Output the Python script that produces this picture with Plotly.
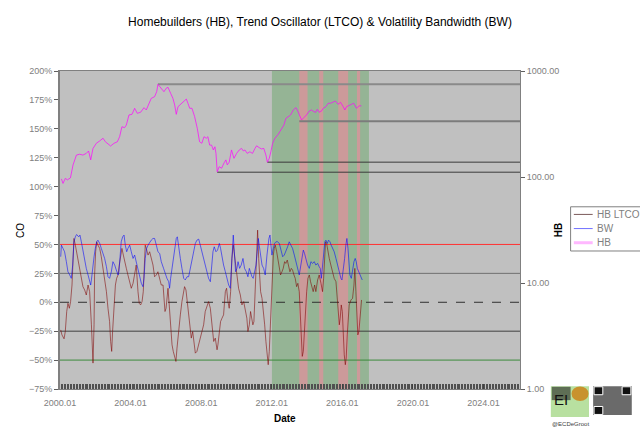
import plotly.graph_objects as go

# ---- datos ----
# HB (escala log, eje derecho)
hb_fecha = [2000.08, 2000.17, 2000.30, 2000.42, 2000.59, 2000.74, 2000.93, 2001.11, 2001.30, 2001.49,
            2001.62, 2001.74, 2001.87, 2002.06, 2002.25, 2002.44, 2002.57, 2002.72, 2002.87, 2003.06,
            2003.25, 2003.38, 2003.51, 2003.66, 2003.76, 2003.91, 2004.08, 2004.23, 2004.38, 2004.57,
            2004.76, 2004.89, 2005.02, 2005.17, 2005.36, 2005.48, 2005.55, 2005.65, 2005.78, 2005.89,
            2006.02, 2006.12, 2006.27, 2006.40, 2006.50, 2006.59, 2006.69, 2006.88, 2007.03, 2007.16,
            2007.25, 2007.35, 2007.48, 2007.63, 2007.78, 2007.91, 2008.04, 2008.16, 2008.29, 2008.38,
            2008.48, 2008.59, 2008.69, 2008.78, 2008.84, 2008.91, 2009.02, 2009.16, 2009.29, 2009.40,
            2009.48, 2009.59, 2009.72, 2009.86, 2010.01, 2010.16, 2010.29, 2010.39, 2010.48, 2010.61,
            2010.76, 2010.91, 2011.05, 2011.14, 2011.29, 2011.42, 2011.55, 2011.67, 2011.75, 2011.86,
            2011.95, 2012.05, 2012.18, 2012.27, 2012.37, 2012.46, 2012.56, 2012.69, 2012.80, 2012.94,
            2013.07, 2013.22, 2013.37, 2013.45, 2013.56, 2013.69, 2013.82, 2013.97, 2014.13, 2014.26,
            2014.39, 2014.50, 2014.58, 2014.69, 2014.82, 2014.92, 2015.07, 2015.20, 2015.33, 2015.48,
            2015.61, 2015.76, 2015.90, 2016.05, 2016.14, 2016.24, 2016.39, 2016.52, 2016.65, 2016.80,
            2016.90, 2016.99, 2017.08]
hb_valor = [96, 87, 97, 94, 98, 130, 161, 164, 161, 167,
            176, 145, 186, 208, 219, 232, 215, 203, 196, 208,
            215, 240, 298, 292, 309, 385, 390, 445, 399, 408,
            451, 429, 485, 552, 572, 638, 748, 711, 662, 638,
            687, 702, 616, 552, 478, 390, 461, 496, 514, 544,
            496, 445, 445, 371, 288, 215, 208, 240, 232, 240,
            200, 200, 180, 193, 167, 112, 125, 121, 135, 145,
            130, 138, 180, 150, 167, 180, 186, 176, 180, 167,
            173, 167, 186, 197, 189, 184, 186, 161, 138, 150,
            173, 208, 232, 240, 253, 268, 288, 309, 357, 371,
            385, 429, 451, 429, 385, 345, 363, 385, 420, 429,
            413, 408, 435, 408, 420, 445, 461, 496, 496, 514,
            521, 485, 506, 461, 429, 461, 478, 485, 496, 445,
            461, 471, 468]

# niveles horizontales de HB (fecha de inicio, nivel)
nivel_fecha = [2005.55, 2013.56, 2011.75, 2008.91]
nivel_valor = [750, 335, 138, 111]

# HB LTCO (%)
ltco_fecha = [2000.04, 2000.11, 2000.23, 2000.30, 2000.38, 2000.45, 2000.53, 2000.60, 2000.68, 2000.76,
              2000.79, 2000.87, 2000.94, 2001.02, 2001.11, 2001.21, 2001.30, 2001.40, 2001.49, 2001.59,
              2001.68, 2001.78, 2001.83, 2001.87, 2001.93, 2001.96, 2002.02, 2002.08, 2002.15, 2002.25,
              2002.34, 2002.44, 2002.53, 2002.63, 2002.72, 2002.81, 2002.87, 2002.93, 2002.98, 2003.06,
              2003.14, 2003.21, 2003.29, 2003.36, 2003.44, 2003.51, 2003.59, 2003.66, 2003.76, 2003.85,
              2003.95, 2004.04, 2004.14, 2004.23, 2004.32, 2004.42, 2004.49, 2004.57, 2004.65, 2004.72,
              2004.80, 2004.83, 2004.89, 2004.99, 2005.08, 2005.17, 2005.27, 2005.36, 2005.46, 2005.55,
              2005.65, 2005.74, 2005.84, 2005.89, 2005.95, 2006.01, 2006.06, 2006.12, 2006.19, 2006.27,
              2006.35, 2006.42, 2006.50, 2006.57, 2006.63, 2006.72, 2006.82, 2006.91, 2007.01, 2007.06,
              2007.14, 2007.21, 2007.29, 2007.37, 2007.44, 2007.52, 2007.59, 2007.67, 2007.76, 2007.86,
              2007.95, 2008.04, 2008.14, 2008.23, 2008.33, 2008.42, 2008.52, 2008.61, 2008.71, 2008.80,
              2008.90, 2008.95, 2009.03, 2009.10, 2009.18, 2009.27, 2009.37, 2009.44, 2009.52, 2009.59,
              2009.67, 2009.74, 2009.82, 2009.90, 2009.97, 2010.05, 2010.12, 2010.22, 2010.31, 2010.41,
              2010.50, 2010.59, 2010.65, 2010.73, 2010.80, 2010.88, 2010.93, 2010.99, 2011.07, 2011.14,
              2011.20, 2011.26, 2011.31, 2011.37, 2011.45, 2011.52, 2011.60, 2011.67, 2011.75, 2011.80,
              2011.86, 2011.92, 2011.97, 2012.03, 2012.09, 2012.14, 2012.20, 2012.28, 2012.35, 2012.43,
              2012.50, 2012.58, 2012.65, 2012.73, 2012.80, 2012.88, 2012.96, 2013.03, 2013.11, 2013.18,
              2013.26, 2013.33, 2013.41, 2013.48, 2013.56, 2013.62, 2013.67, 2013.73, 2013.79, 2013.84,
              2013.90, 2013.98, 2014.05, 2014.13, 2014.20, 2014.28, 2014.35, 2014.43, 2014.50, 2014.60,
              2014.69, 2014.79, 2014.88, 2014.94, 2014.99, 2015.05, 2015.11, 2015.18, 2015.26, 2015.35,
              2015.45, 2015.54, 2015.64, 2015.71, 2015.77, 2015.83, 2015.88, 2015.94, 2016.00, 2016.05,
              2016.11, 2016.17, 2016.22, 2016.28, 2016.34, 2016.39, 2016.49, 2016.58, 2016.66, 2016.71,
              2016.77, 2016.83, 2016.88, 2016.94, 2017.00, 2017.05, 2017.09]
ltco_valor = [-23.9, -28.2, -31.6, -25.3, -8.0, -0.9, -5.2, 0.6, 14.9, 37.9,
              55.2, 49.4, 43.7, 39.4, 32.2, 23.6, 13.5, 10.6, 6.3, 14.9,
              9.2, -19.5, -44.0, -52.6, -19.5, 23.6, 43.7, 52.3, 49.4, 46.6,
              39.4, 29.3, 17.8, 9.2, -5.2, -16.7, -33.9, -42.5, -25.3, -2.3,
              14.9, 20.7, 23.6, 32.2, 40.8, 46.6, 40.8, 35.1, 29.3, 23.6,
              17.8, 12.1, 16.4, 26.4, 32.2, 9.2, -0.9, -2.3, 0.6, 9.2,
              32.2, 49.4, 46.6, 40.8, 43.7, 37.9, 32.2, 22.1, 23.6, 26.4,
              20.7, 14.9, 14.9, 3.4, -8.0, -5.2, 3.4, 12.1, -2.3, -25.3,
              -36.8, -42.5, -48.3, -51.2, -39.7, -22.4, -10.9, 0.6, 9.2, 13.5,
              10.6, 0.6, -10.9, -22.4, -31.0, -25.3, -36.8, -44.0, -42.5, -36.8,
              -31.0, -25.3, -19.5, -8.0, -2.3, 0.6, -5.2, -19.5, -33.9, -31.0,
              -41.1, -36.8, -22.4, -16.7, -13.8, -10.9, 9.2, 12.1, 0.6, -5.2,
              9.2, 37.9, 49.4, 37.9, 29.3, 20.7, 12.1, 6.3, -2.3, 0.6,
              -5.2, -13.8, -25.3, -19.5, -8.0, -13.8, -19.5, -16.7, 9.2, 32.2,
              62.4, 37.9, 20.7, 9.2, 3.4, -5.2, -19.5, -33.9, -48.3, -54.0,
              -42.5, -19.5, 9.2, 32.2, 40.8, 46.6, 49.4, 43.7, 37.9, 29.3,
              23.6, 26.4, 29.3, 35.1, 33.6, 36.5, 32.2, 26.4, 29.3, 27.9,
              23.6, 20.7, 13.5, 16.4, 9.2, -8.0, -31.0, -46.8, -42.5, -28.2,
              -8.0, 9.2, 20.7, 23.6, 17.8, 12.1, 9.2, 14.9, 9.2, 19.3,
              23.6, 16.4, 9.2, 20.7, 43.7, 52.3, 50.9, 43.7, 37.9, 32.2,
              26.4, 20.7, 17.8, 6.3, -8.0, -19.5, -13.8, -2.3, -8.0, -28.2,
              -45.4, -54.0, -48.3, -28.2, -10.9, -2.3, 2.0, 3.4, 14.9, 29.3,
              9.2, -13.8, -28.2, -25.3, -10.9, 0.6, 2.0]

# BW (%)
bw_fecha = [2000.04, 2000.08, 2000.17, 2000.26, 2000.36, 2000.45, 2000.55, 2000.64, 2000.72, 2000.79,
            2000.87, 2000.94, 2001.06, 2001.13, 2001.21, 2001.30, 2001.40, 2001.49, 2001.59, 2001.68,
            2001.74, 2001.78, 2001.87, 2001.93, 2002.00, 2002.08, 2002.15, 2002.25, 2002.34, 2002.44,
            2002.53, 2002.63, 2002.72, 2002.81, 2002.91, 2003.00, 2003.10, 2003.19, 2003.29, 2003.34,
            2003.40, 2003.47, 2003.55, 2003.63, 2003.70, 2003.78, 2003.85, 2003.95, 2004.04, 2004.14,
            2004.23, 2004.32, 2004.42, 2004.51, 2004.61, 2004.70, 2004.76, 2004.83, 2004.91, 2004.99,
            2005.08, 2005.17, 2005.27, 2005.36, 2005.46, 2005.55, 2005.65, 2005.74, 2005.87, 2005.97,
            2006.06, 2006.16, 2006.21, 2006.27, 2006.35, 2006.44, 2006.53, 2006.59, 2006.65, 2006.72,
            2006.82, 2006.91, 2007.01, 2007.10, 2007.20, 2007.29, 2007.39, 2007.48, 2007.57, 2007.67,
            2007.76, 2007.86, 2007.95, 2008.04, 2008.14, 2008.23, 2008.33, 2008.42, 2008.52, 2008.61,
            2008.67, 2008.74, 2008.84, 2008.93, 2009.03, 2009.10, 2009.18, 2009.27, 2009.37, 2009.46,
            2009.56, 2009.65, 2009.71, 2009.76, 2009.82, 2009.88, 2009.95, 2010.03, 2010.09, 2010.18,
            2010.27, 2010.37, 2010.46, 2010.56, 2010.65, 2010.73, 2010.80, 2010.88, 2010.95, 2011.03,
            2011.11, 2011.18, 2011.24, 2011.29, 2011.37, 2011.45, 2011.54, 2011.63, 2011.73, 2011.78,
            2011.84, 2011.90, 2011.95, 2012.01, 2012.09, 2012.16, 2012.24, 2012.33, 2012.43, 2012.52,
            2012.62, 2012.71, 2012.80, 2012.90, 2012.99, 2013.09, 2013.18, 2013.28, 2013.37, 2013.47,
            2013.56, 2013.65, 2013.71, 2013.79, 2013.86, 2013.94, 2014.03, 2014.13, 2014.22, 2014.32,
            2014.41, 2014.50, 2014.60, 2014.69, 2014.75, 2014.81, 2014.88, 2014.96, 2015.01, 2015.07,
            2015.15, 2015.22, 2015.30, 2015.37, 2015.45, 2015.54, 2015.64, 2015.73, 2015.83, 2015.92,
            2015.98, 2016.05, 2016.13, 2016.20, 2016.26, 2016.32, 2016.37, 2016.43, 2016.51, 2016.58,
            2016.66, 2016.73, 2016.79, 2016.85, 2016.92, 2017.00, 2017.07, 2017.13]
bw_valor = [39.4, 49.4, 46.6, 43.7, 35.1, 26.4, 23.6, 20.7, 32.2, 52.3,
            56.6, 58.6, 56.6, 58.1, 52.3, 43.7, 35.1, 29.3, 23.6, 17.8,
            14.9, 19.3, 35.1, 39.4, 46.6, 52.3, 53.7, 50.9, 46.6, 42.2,
            37.9, 30.8, 22.1, 20.7, 26.4, 35.1, 32.2, 27.9, 23.6, 26.4,
            43.7, 52.3, 56.6, 58.1, 49.4, 43.7, 46.6, 49.4, 43.7, 37.9,
            40.8, 35.1, 26.4, 20.7, 16.4, 13.5, 20.7, 37.9, 46.6, 49.4,
            52.3, 53.7, 55.2, 55.2, 49.4, 43.7, 42.2, 35.1, 29.3, 23.6,
            20.7, 17.8, 12.1, 20.7, 29.3, 37.9, 49.4, 55.2, 56.6, 46.6,
            37.9, 29.3, 20.7, 19.3, 22.1, 22.1, 29.3, 37.9, 43.7, 50.9,
            53.7, 54.6, 49.4, 43.7, 37.9, 32.2, 25.0, 20.7, 17.8, 32.2,
            43.7, 48.0, 43.7, 45.1, 50.9, 46.6, 37.9, 32.2, 26.4, 20.7,
            14.9, 12.1, 26.4, 46.6, 58.1, 43.7, 26.4, 29.3, 35.1, 29.3,
            32.2, 37.9, 29.3, 26.4, 22.1, 29.3, 25.0, 22.1, 20.7, 26.4,
            32.2, 43.7, 55.2, 49.4, 37.9, 32.2, 29.3, 23.6, 40.8, 49.4,
            55.2, 58.1, 49.4, 40.8, 46.6, 50.9, 52.3, 52.3, 50.9, 45.1,
            39.4, 40.8, 43.7, 48.0, 52.3, 49.4, 46.6, 40.8, 35.1, 29.3,
            23.6, 32.2, 39.4, 45.1, 42.2, 37.9, 32.2, 29.3, 35.1, 33.6,
            35.1, 32.2, 33.6, 30.8, 29.3, 20.7, 32.2, 43.7, 52.3, 53.7,
            50.9, 53.7, 52.3, 49.4, 46.6, 43.7, 37.9, 32.2, 26.4, 20.7,
            19.3, 26.4, 37.9, 49.4, 55.2, 46.6, 35.1, 23.6, 20.7, 29.3,
            35.1, 37.9, 35.1, 29.3, 26.4, 23.6, 20.7, 19.3]

# zonas sombreadas (inicio, fin)
zona_verde = (2012.01, 2017.51)
zonas_rojas = [(2013.56, 2014.03), (2014.69, 2014.92), (2015.77, 2016.33), (2016.83, 2017.01)]

# niveles de referencia del oscilador (%)
co_niveles = [50, 25, 0, -25, -50]
co_colores = ["#FF3030", "#707070", "#303030", "#404040", "#3C8A3C"]
co_estilos = ["solid", "solid", "dash", "solid", "solid"]

anios_tick = [2000, 2004, 2008, 2012, 2016, 2020, 2024]
X_FIN = 2026.07

# leyenda manual (nombre, color de muestra, grosor)
leyenda_nombres = ["HB LTCO", "BW", "HB"]
leyenda_colores = ["#7A5A5A", "#7070FF", "#FFB8FF"]
leyenda_grosor = [1, 1, 3]

fuente = "Liberation Sans, Arial, sans-serif"
fig = go.Figure()

# niveles HB
for f, v, col, w in zip(nivel_fecha, nivel_valor,
                        ["#8A8A8A", "#7C7C7C", "#3A3A3A", "#3A3A3A"], [2, 2, 1, 1]):
    fig.add_trace(go.Scatter(x=[f, X_FIN], y=[v, v], mode="lines", yaxis="y2",
                             line=dict(color=col, width=w), showlegend=False, hoverinfo="skip"))

fig.add_trace(go.Scatter(x=ltco_fecha, y=ltco_valor, mode="lines", name="HB LTCO",
                         line=dict(color="rgba(128,0,0,0.55)", width=1), showlegend=False))
fig.add_trace(go.Scatter(x=bw_fecha, y=bw_valor, mode="lines", name="BW",
                         line=dict(color="rgba(0,0,255,0.55)", width=1), showlegend=False))
fig.add_trace(go.Scatter(x=hb_fecha, y=hb_valor, mode="lines", name="HB", yaxis="y2",
                         line=dict(color="rgba(255,0,255,0.7)", width=1), showlegend=False))

shapes = [dict(type="rect", xref="x", yref="paper", x0=zona_verde[0], x1=zona_verde[1], y0=0, y1=1,
               fillcolor="#95B495", line_width=0, layer="below")]
for a, b in zonas_rojas:
    shapes.append(dict(type="rect", xref="x", yref="paper", x0=a, x1=b, y0=0, y1=1,
                       fillcolor="#CC9A9A", line_width=0, layer="below"))
for nv, col, st in zip(co_niveles, co_colores, co_estilos):
    shapes.append(dict(type="line", xref="paper", yref="y", x0=0, x1=1, y0=nv, y1=nv,
                       line=dict(color=col, width=1, dash=st), layer="below"))

annotations = [
    dict(text="CO", xref="paper", yref="paper", x=-0.087, y=0.50, textangle=-90, showarrow=False,
         xanchor="center", yanchor="middle", font=dict(size=10, color="black")),
    dict(text="<b>HB</b>", xref="paper", yref="paper", x=1.083, y=0.50, textangle=-90, showarrow=False,
         xanchor="center", yanchor="middle", font=dict(size=10, color="black")),
    dict(text="<b>Date</b>", xref="paper", yref="paper", x=0.489, y=-0.093, showarrow=False,
         xanchor="center", yanchor="middle", font=dict(size=10, color="black")),
]

# leyenda dibujada a mano
shapes.append(dict(type="rect", xref="paper", yref="paper", x0=1.110, x1=1.262, y0=0.434, y1=0.573,
                   fillcolor="white", line=dict(color="#808080", width=1)))
for i, (nom, col, w) in enumerate(zip(leyenda_nombres, leyenda_colores, leyenda_grosor)):
    yy = 0.549 - i * 0.0445
    shapes.append(dict(type="line", xref="paper", yref="paper", x0=1.117, x1=1.158, y0=yy, y1=yy,
                       line=dict(color=col, width=w)))
    annotations.append(dict(text=nom, xref="paper", yref="paper", x=1.162, y=yy, xanchor="left",
                            yanchor="middle", showarrow=False, font=dict(size=10, color="#808080")))

# logo aproximado abajo a la derecha
shapes.append(dict(type="rect", xref="paper", yref="paper", x0=1.067, x1=1.150, y0=-0.088, y1=0.009,
                   fillcolor="#B8E0A0", line_width=0))
shapes.append(dict(type="rect", xref="paper", yref="paper", x0=1.069, x1=1.110, y0=-0.035, y1=0.007,
                   fillcolor="#5E6E55", line_width=0))
shapes.append(dict(type="circle", xref="paper", yref="paper", x0=1.112, x1=1.149, y0=-0.038, y1=0.008,
                   fillcolor="#C8922E", line_width=0))
shapes.append(dict(type="rect", xref="paper", yref="paper", x0=1.159, x1=1.243, y0=-0.082, y1=0.009,
                   fillcolor="#6A6A6A", line_width=0))
for qx, qy in [(1.161, -0.018), (1.222, -0.018), (1.161, -0.080)]:
    shapes.append(dict(type="rect", xref="paper", yref="paper", x0=qx, x1=qx + 0.019, y0=qy, y1=qy + 0.025,
                       fillcolor="#111111", line=dict(color="white", width=1)))
annotations += [
    dict(text="EI", xref="paper", yref="paper", x=1.108, y=-0.065, showarrow=False,
         font=dict(size=15, color="#111111")),
    dict(text="@ECDeGroot", xref="paper", yref="paper", x=1.155, y=-0.125, showarrow=False,
         font=dict(size=6, color="#404040")),
]

fig.update_layout(
    width=640, height=438,
    margin=dict(l=60, r=120, t=71, b=49, autoexpand=False),
    paper_bgcolor="white", plot_bgcolor="#C0C0C0",
    font=dict(family=fuente, size=9, color="#808080"),
    title=dict(text="Homebuilders (HB), Trend Oscillator (LTCO) & Volatility Bandwidth (BW)",
               x=0.5, xref="container", xanchor="center", y=0.95, yanchor="middle",
               font=dict(size=12, color="black")),
    shapes=shapes,
    annotations=annotations,
    showlegend=False,
    xaxis=dict(range=[2000, X_FIN], tickmode="array", tickvals=anios_tick,
               ticktext=[f"{a}.01" for a in anios_tick], showgrid=False, zeroline=False,
               ticks="inside", ticklen=5, tickcolor="#404040", ticklabelstandoff=5,
               minor=dict(tickmode="linear", tick0=2000, dtick=1 / 12, ticks="inside", ticklen=5,
                          tickcolor="#505050", showgrid=False),
               showline=True, linecolor="#808080", mirror=True, automargin=False),
    yaxis=dict(range=[-75, 200], dtick=25, ticksuffix="%", showgrid=False, zeroline=False,
               ticks="outside", ticklen=4, tickcolor="#606060", automargin=False,
               showline=True, linecolor="#808080", linewidth=2),
    yaxis2=dict(type="log", range=[0, 3], overlaying="y", side="right", tickmode="array",
                tickvals=[1, 10, 100, 1000], ticktext=["1.00", "10.00", "100.00", "1000.00"],
                showgrid=False, zeroline=False, ticks="outside", ticklen=4, tickcolor="#606060",
                showline=True, linecolor="#808080", automargin=False),
)

fig.write_html("out.html", config={"displayModeBar": False},
               post_script="document.body.style.margin='0';")
